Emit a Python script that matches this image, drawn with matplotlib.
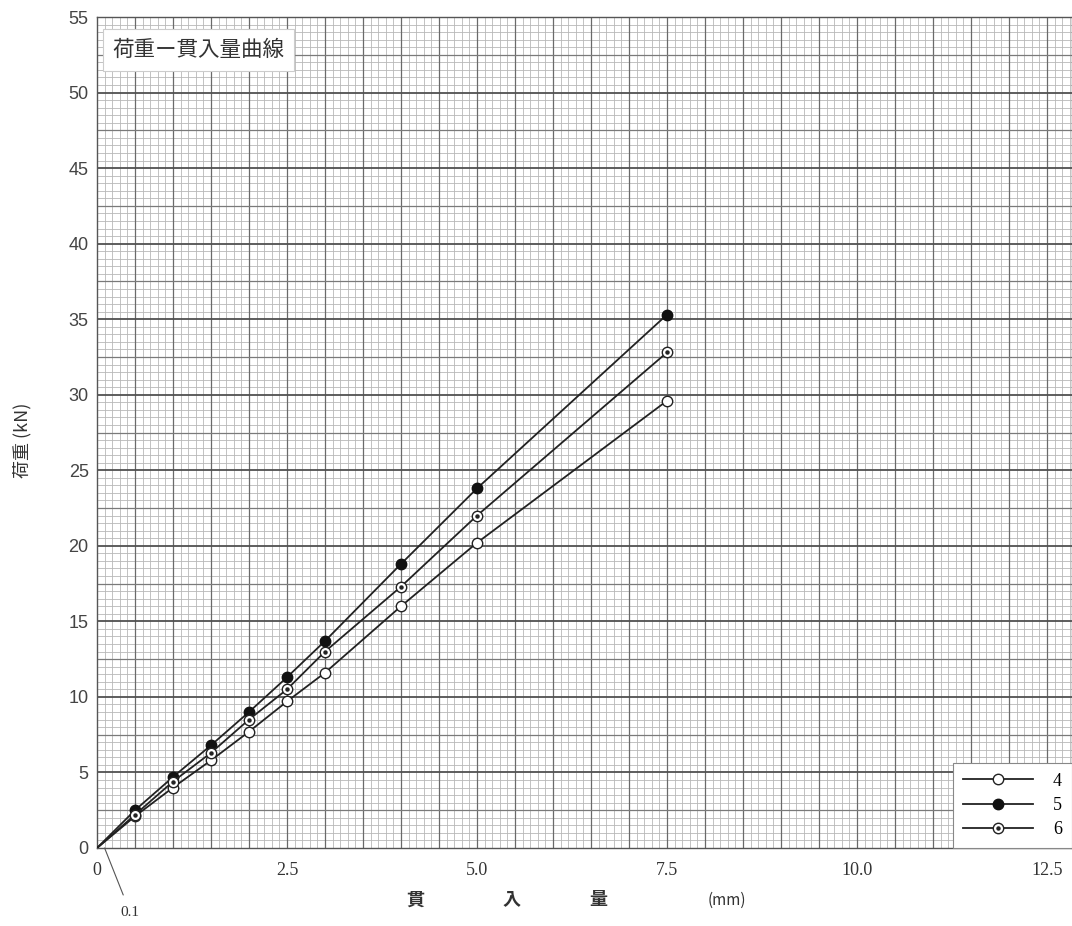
import matplotlib
matplotlib.use("Agg")
import matplotlib.pyplot as plt
import numpy as np
from matplotlib.lines import Line2D
from matplotlib.legend_handler import HandlerTuple

plt.rcParams['font.family'] = ['Noto Sans CJK JP', 'DejaVu Sans']

# penetration (mm)
x = [0.0, 0.5, 1.0, 1.5, 2.0, 2.5, 3.0, 4.0, 5.0, 7.5]
# load (kN)
s4 = [0.0, 2.1, 4.0, 5.8, 7.7, 9.7, 11.6, 16.0, 20.2, 29.6]
s5 = [0.0, 2.5, 4.7, 6.8, 9.0, 11.3, 13.7, 18.8, 23.8, 35.3]
s6 = [0.0, 2.2, 4.4, 6.3, 8.5, 10.5, 13.0, 17.3, 22.0, 32.8]
labels = ["4", "5", "6"]
xticks = [0, 2.5, 5.0, 7.5, 10.0, 12.5]
xticklabels = ["0", "2.5", "5.0", "7.5", "10.0", "12.5"]
yticks = list(range(0, 60, 5))

fig = plt.figure(figsize=(10.72, 9.26), dpi=100)
ax = fig.add_axes([97/1072, 1-848/926, 1-97/1072, (848-17)/926])
xmax = (1072-97)/76.0
ax.set_xlim(0, xmax)
ax.set_ylim(0, 55)

# graph-paper grid
ax.set_xticks(np.arange(0, xmax, 0.1), minor=True)
ax.set_yticks(np.arange(0, 55.01, 0.5), minor=True)
ax.grid(which='minor', color='#b8b8b8', linewidth=0.6)
for gx in np.arange(0.5, xmax, 0.5):
    ax.axvline(gx, color='#6a6a6a', linewidth=0.9, zorder=0.6)
for gy in np.arange(2.5, 55, 2.5):
    c = '#505050' if gy % 5 == 0 else '#7a7a7a'
    lw = 1.3 if gy % 5 == 0 else 0.9
    ax.axhline(gy, color=c, linewidth=lw, zorder=0.6)
ax.set_axisbelow(True)

ax.set_xticks(xticks)
ax.set_xticklabels(xticklabels, family=['Liberation Serif'], fontsize=13, color='#333333')
ax.set_yticks(yticks)
ax.set_yticklabels([str(v) for v in yticks], family=['Liberation Sans'], fontsize=13, color='#444444')
ax.tick_params(which='both', length=0, pad=6)
ax.tick_params(axis='x', pad=10)
for sp in ax.spines.values():
    sp.set_color('#555555')
    sp.set_linewidth(1.0)

ms = 7.5
l4, = ax.plot(x, s4, color='#222222', lw=1.3, marker='o', ms=ms, mfc='white', mec='#222222', mew=1.0, markevery=list(range(1, len(x))), zorder=3)
l5, = ax.plot(x, s5, color='#222222', lw=1.3, marker='o', ms=ms, mfc='#111111', mec='#111111', mew=1.0, markevery=list(range(1, len(x))), zorder=3)
l6, = ax.plot(x, s6, color='#222222', lw=1.3, marker='o', ms=ms, mfc='white', mec='#222222', mew=1.0, markevery=list(range(1, len(x))), zorder=3)
d6, = ax.plot(x[1:], s6[1:], ls='none', marker='o', ms=2.2, mfc='#222222', mec='#222222', zorder=4)

leg = ax.legend([l4, l5, (l6, d6)], labels, loc='lower right', bbox_to_anchor=(1.0, 0.0),
                handler_map={tuple: HandlerTuple(ndivide=1)}, handlelength=3.9,
                frameon=True, fancybox=False, borderpad=0.55, borderaxespad=0.0,
                labelspacing=0.4, handletextpad=1.1, prop={'family': ['Liberation Serif'], 'size': 13})
leg.get_frame().set_edgecolor('#888888')
leg.get_frame().set_linewidth(0.8)
leg.get_frame().set_facecolor('white')
leg.get_frame().set_alpha(1)

# title box
ax.text(0.2, 53.55, "荷重ー貫入量曲線", fontsize=15.5, va='top', ha='left', color='#333333',
        bbox=dict(boxstyle='square,pad=0.45', fc='white', ec='#cccccc', lw=0.8), zorder=5)

# axis labels
fig.text(22/1072, 1-440/926, "荷重 (kN)", rotation=90, va='center', ha='center', fontsize=13, color='#333333')
for lab, px in [("貫", 415), ("入", 512), ("量", 598), ("(mm)", 727)]:
    fig.text(px/1072, 1-900/926, lab, va='center', ha='center', fontsize=13 if lab != "(mm)" else 11,
             color='#333333', weight='bold' if lab != "(mm)" else 'normal')

# 0.1 annotation
ax.annotate("0.1", xy=(0.1, 0), xytext=(130/1072, 1-912/926), textcoords='figure fraction',
            fontsize=11, ha='center', va='center', family=['Liberation Serif'], color='#333333',
            arrowprops=dict(arrowstyle='-', color='#555555', lw=0.8, shrinkA=6, shrinkB=0),
            annotation_clip=False)

fig.savefig("out.png", dpi=100)
